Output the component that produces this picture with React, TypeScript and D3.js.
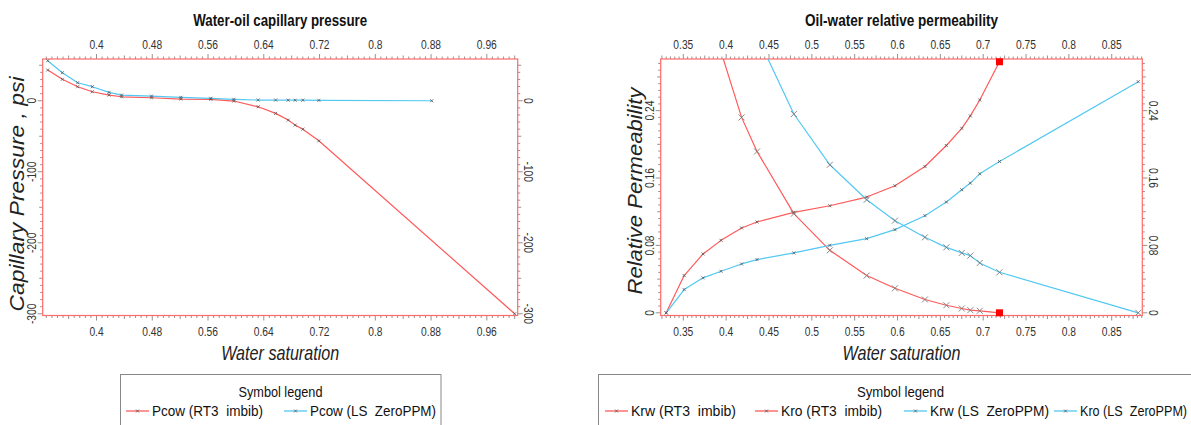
import React from 'react';
import * as d3 from 'd3';

// ---------- data ----------
const SW = [0.330, 0.351, 0.373, 0.394, 0.418, 0.436, 0.479, 0.521, 0.564, 0.597, 0.632, 0.657, 0.675, 0.685, 0.696, 0.719];

// Water-oil capillary pressure (psi)
const pcowRT3Sw = [...SW, 1.0];
const pcowRT3 = [43.3, 30.2, 19.8, 12.7, 8.0, 5.6, 4.2, 2.4, 2.0, -0.4, -8.5, -17.8, -27.2, -34.3, -40.0, -56.4, -300];
const pcowLSSw = [...SW, 0.881];
const pcowLS = [56.4, 39.5, 25.4, 19.8, 11.8, 8.0, 6.6, 4.8, 3.4, 2.0, 1.0, 1.0, 0.8, 0.8, 0.8, 0.6, 0];

// Oil-water relative permeability
const krwRT3Sw = SW;
const krwRT3 = [0, 0.0442, 0.0699, 0.086, 0.1007, 0.1078, 0.1192, 0.1271, 0.1374, 0.1508, 0.1737, 0.1986, 0.219, 0.2338, 0.2527, 0.298];
const kroRT3Sw = SW.slice(3);
const kroRT3 = [0.31, 0.232, 0.1915, 0.1177, 0.0742, 0.0442, 0.0291, 0.0158, 0.009, 0.0051, 0.0031, 0.0024, 0];
const krwLSSw = [...SW, 0.881];
const krwLS = [0, 0.0276, 0.0415, 0.0493, 0.058, 0.0632, 0.0711, 0.0801, 0.088, 0.0987, 0.1153, 0.1315, 0.1461, 0.154, 0.165, 0.1796, 0.2744];
const kroLSSw = [...SW.slice(5), 0.881];
const kroLS = [0.329, 0.236, 0.1757, 0.1342, 0.1094, 0.0896, 0.0777, 0.0711, 0.0679, 0.0592, 0.0481, 0];

// tick labels
const leftXTicks = [0.4, 0.48, 0.56, 0.64, 0.72, 0.8, 0.88, 0.96];
const leftYTicks = [-300, -200, -100, 0];
const rightXTicks = [0.35, 0.4, 0.45, 0.5, 0.55, 0.6, 0.65, 0.7, 0.75, 0.8, 0.85];
const rightYTicks = [0, 0.08, 0.16, 0.24];

const leftLegend = ['Pcow (RT3  imbib)', 'Pcow (LS  ZeroPPM)'];
const rightLegend = ['Krw (RT3  imbib)', 'Kro (RT3  imbib)', 'Krw (LS  ZeroPPM)', 'Kro (LS  ZeroPPM)'];

// ---------- style ----------
const FONT = "'Liberation Sans Narrow', 'Arial Narrow', 'Liberation Sans', Arial, sans-serif";
const FRAME = '#ff6a6a';
const TICK = '#777';
const LABEL = '#333';
const RED = '#ff5a5a';
const BLUE = '#52c8f2';
const NARROW = 0.82;

function subTicks(domain: number[], base: number, step: number) {
  const out: { v: number; kind: number }[] = [];
  const lo = Math.min(domain[0], domain[1]);
  const hi = Math.max(domain[0], domain[1]);
  const iMin = Math.ceil((lo - base) / step - 1e-6);
  const iMax = Math.floor((hi - base) / step + 1e-6);
  for (let i = iMin; i <= iMax; i++) {
    out.push({ v: base + i * step, kind: i % 10 === 0 ? 2 : i % 5 === 0 ? 1 : 0 });
  }
  return out;
}

const tickLen = [2.5, 3.5, 5];

function Marker({ x, y, kind }: { x: number; y: number; kind: string }) {
  const h = kind === 'big' ? 3 : 1.5;
  const c = kind === 'big' ? '#7a7a7a' : '#555';
  const w = kind === 'big' ? 0.9 : 0.8;
  return (
    <g stroke={c} strokeWidth={w}>
      <line x1={x - h} y1={y - h} x2={x + h} y2={y + h} />
      <line x1={x - h} y1={y + h} x2={x + h} y2={y - h} />
    </g>
  );
}

type Series = { xs: number[]; ys: number[]; color: string; marker: string; endSquare?: boolean };

function Panel(p: any) {
  const { id, x0, x1, y0, y1, xDomain, yDomain, xTicks, yTicks, xBase, xStep, yBase, yStep, fmt, series,
    title, titleLen, yTitle, yTitleLen, yTitleCy, yTitleX } = p;
  const sx = d3.scaleLinear().domain(xDomain).range([x0, x1]);
  const sy = d3.scaleLinear().domain(yDomain).range([y1, y0]);
  const xt = subTicks(xDomain, xBase, xStep);
  const yt = subTicks(yDomain, yBase, yStep);
  const line = d3.line<[number, number]>().curve(d3.curveLinear);
  const cx = (x0 + x1) / 2;
  return (
    <g>
      <defs>
        <clipPath id={id}>
          <rect x={x0} y={y0} width={x1 - x0} height={y1 - y0} />
        </clipPath>
      </defs>
      {/* ticks */}
      <g stroke={TICK} strokeWidth={0.8}>
        {xt.map((t, i) => (
          <g key={'x' + i}>
            <line x1={sx(t.v)} x2={sx(t.v)} y1={y0} y2={y0 - tickLen[t.kind]} />
            <line x1={sx(t.v)} x2={sx(t.v)} y1={y1} y2={y1 + tickLen[t.kind]} />
          </g>
        ))}
        {yt.map((t, i) => (
          <g key={'y' + i}>
            <line y1={sy(t.v)} y2={sy(t.v)} x1={x0} x2={x0 - tickLen[t.kind]} />
            <line y1={sy(t.v)} y2={sy(t.v)} x1={x1} x2={x1 + tickLen[t.kind]} />
          </g>
        ))}
      </g>
      {/* frame */}
      <rect x={x0} y={y0} width={x1 - x0} height={y1 - y0} fill="none" stroke={FRAME} strokeWidth={1.2} />
      {/* tick labels */}
      <g fontFamily={FONT} fontSize={12.5} fill={LABEL}>
        {xTicks.map((v: number) => (
          <g key={'xl' + v}>
            <text transform={`translate(${sx(v)},${y0 - 10}) scale(${NARROW},1)`} textAnchor="middle">{fmt(v)}</text>
            <text transform={`translate(${sx(v)},${y1 + 20}) scale(${NARROW},1)`} textAnchor="middle">{fmt(v)}</text>
          </g>
        ))}
        {yTicks.map((v: number) => (
          <g key={'yl' + v}>
            <text transform={`translate(${x0 - 7},${sy(v)}) rotate(-90) scale(${NARROW},1)`} textAnchor="middle">{fmt(v)}</text>
            <text transform={`translate(${x1 + 6.5},${sy(v)}) rotate(90) scale(${NARROW},1)`} textAnchor="middle">{fmt(v)}</text>
          </g>
        ))}
      </g>
      {/* series */}
      <g clipPath={`url(#${id})`}>
        {series.map((s: Series, k: number) => {
          const pts: [number, number][] = s.xs.map((x, i) => [sx(x), sy(s.ys[i])]);
          return (
            <path key={'l' + k} d={line(pts) || ''} fill="none" stroke={s.color} strokeWidth={1.2} strokeLinejoin="round" />
          );
        })}
        {series.map((s: Series, k: number) =>
          s.xs.map((x, i) => {
            if (s.endSquare && i === s.xs.length - 1) return null;
            return <Marker key={'m' + k + '-' + i} x={sx(x)} y={sy(s.ys[i])} kind={s.marker} />;
          })
        )}
      </g>
      {series.map((s: Series, k: number) => {
        if (!s.endSquare) return null;
        const n = s.xs.length - 1;
        return <rect key={'sq' + k} x={sx(s.xs[n]) - 3.5} y={sy(s.ys[n]) - 3.5} width={7} height={7} fill="#ff0000" />;
      })}
      {/* titles */}
      <text x={cx} y={26} textAnchor="middle" fontFamily={FONT} fontWeight="bold" fontSize={17} fill="#111"
        textLength={titleLen} lengthAdjust="spacingAndGlyphs">{title}</text>
      <text x={cx} y={360} textAnchor="middle" fontFamily={FONT} fontStyle="italic" fontSize={21} fill="#222"
        textLength={118} lengthAdjust="spacingAndGlyphs">Water saturation</text>
      <text transform={`translate(${yTitleX},${yTitleCy}) rotate(-90)`} textAnchor="middle" fontFamily={FONT}
        fontStyle="italic" fontSize={20} fill="#222" textLength={yTitleLen} lengthAdjust="spacingAndGlyphs">{yTitle}</text>
    </g>
  );
}

function LegendEntry({ x, y, color, label, len, sc }: any) {
  return (
    <g>
      <line x1={x} x2={x + 23} y1={y - 5} y2={y - 5} stroke={color} strokeWidth={1.3} />
      <Marker x={x + 11.5} y={y - 5} kind="small" />
      {sc ? (
        <text transform={`translate(${x + 26},${y}) scale(${sc},1)`} fontFamily={FONT} fontSize={15} fill="#111"
          style={{ whiteSpace: 'pre' }}>{label}</text>
      ) : (
        <text x={x + 26} y={y} fontFamily={FONT} fontSize={15} fill="#111" textLength={len}
          lengthAdjust="spacingAndGlyphs" style={{ whiteSpace: 'pre' }}>{label}</text>
      )}
    </g>
  );
}

export default function App() {
  const fmtL = (v: number) => String(v);
  const leftSeries: Series[] = [
    { xs: pcowRT3Sw, ys: pcowRT3, color: RED, marker: 'small' },
    { xs: pcowLSSw, ys: pcowLS, color: BLUE, marker: 'small' },
  ];
  const rightSeries: Series[] = [
    { xs: krwRT3Sw, ys: krwRT3, color: RED, marker: 'small', endSquare: true },
    { xs: kroRT3Sw, ys: kroRT3, color: RED, marker: 'big', endSquare: true },
    { xs: krwLSSw, ys: krwLS, color: BLUE, marker: 'small' },
    { xs: kroLSSw, ys: kroLS, color: BLUE, marker: 'big' },
  ];
  const legY1 = 397;
  const legY2 = 416;
  return (
    <svg width={1191} height={425} style={{ position: 'absolute', left: 0, top: 0, background: '#fff' }}>
      <rect x={0} y={0} width={1191} height={425} fill="#fff" />
      <Panel id="clipL" x0={42.7} x1={517.7} y0={59} y1={315.5}
        xDomain={[0.3228, 1.0043]} yDomain={[-302.4, 58.8]}
        xTicks={leftXTicks} yTicks={leftYTicks}
        xBase={0.4} xStep={0.008} yBase={0} yStep={10} fmt={fmtL}
        series={leftSeries} title="Water-oil capillary pressure" titleLen={174}
        yTitle="Capillary Pressure , psi" yTitleLen={235} yTitleCy={194} yTitleX={24} />
      <Panel id="clipR" x0={660.7} x1={1142.3} y0={59} y1={315.5}
        xDomain={[0.3236, 0.8857]} yDomain={[-0.0032, 0.3013]}
        xTicks={rightXTicks} yTicks={rightYTicks}
        xBase={0.35} xStep={0.005} yBase={0} yStep={0.008} fmt={fmtL}
        series={rightSeries} title="Oil-water relative permeability" titleLen={193}
        yTitle="Relative Permeability" yTitleLen={207} yTitleCy={191} yTitleX={642} />
      {/* legends */}
      <rect x={120.5} y={374.5} width={320.5} height={60} fill="none" stroke="#888" strokeWidth={1} />
      <text x={280.5} y={legY1} textAnchor="middle" fontFamily={FONT} fontSize={15} fill="#111"
        textLength={84} lengthAdjust="spacingAndGlyphs">Symbol legend</text>
      <LegendEntry x={126} y={legY2} color={RED} label={leftLegend[0]} len={111} />
      <LegendEntry x={284} y={legY2} color={BLUE} label={leftLegend[1]} len={126} />

      <rect x={598.5} y={374.5} width={640} height={60} fill="none" stroke="#888" strokeWidth={1} />
      <text x={900.5} y={legY1} textAnchor="middle" fontFamily={FONT} fontSize={15} fill="#111"
        textLength={87} lengthAdjust="spacingAndGlyphs">Symbol legend</text>
      <LegendEntry x={605} y={legY2} color={RED} label={rightLegend[0]} len={105} />
      <LegendEntry x={755} y={legY2} color={RED} label={rightLegend[1]} len={101} />
      <LegendEntry x={904} y={legY2} color={BLUE} label={rightLegend[2]} len={119} />
      <LegendEntry x={1054} y={legY2} color={BLUE} label={rightLegend[3]} sc={0.84} />
    </svg>
  );
}
